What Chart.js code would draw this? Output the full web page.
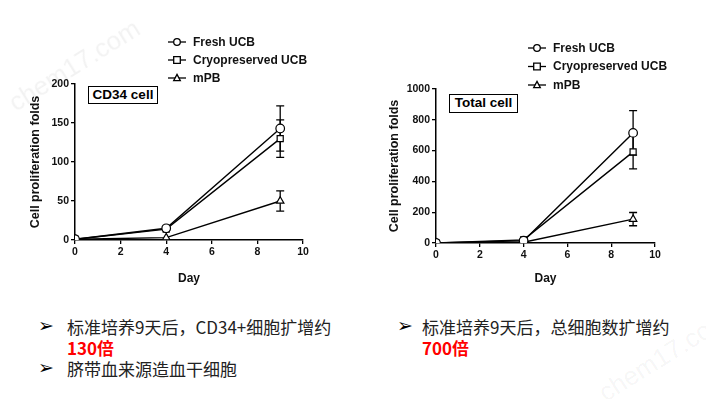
<!DOCTYPE html>
<html lang="zh">
<head>
<meta charset="UTF-8">
<title>Cell proliferation</title>
<script src="https://cdn.jsdelivr.net/npm/chart.js"></script>
<style>
  body { margin: 0; background: #fff; }
  #page { position: relative; width: 706px; height: 399px; overflow: hidden; font-family: "Liberation Sans", Arial, sans-serif; }
  canvas { position: absolute; }
  .tag { position: absolute; border: 1.3px solid #000; font-weight: bold; font-size: 13.5px; line-height: 16px; text-align: center; box-sizing: border-box; background: #fff; }
  .note { position: absolute; font-family: "Noto Sans CJK SC", sans-serif; font-size: 17px; line-height: 20px; color: #222; white-space: nowrap; }
  .note .mark { position: absolute; font-family: "DejaVu Sans", sans-serif; font-size: 19px; color: #000; }
  .red { color: #f00; font-weight: bold; font-size: 17px; }
  .wm { position: absolute; color: rgba(0,0,0,0.05); font-family: "Liberation Sans", Arial; font-size: 26px; transform: rotate(-32deg); }
</style>
</head>
<body>
<div id="page">
  <canvas id="cd34" width="300" height="260" style="left:28px;top:30px;width:300px;height:260px"></canvas>
  <canvas id="total" width="300" height="260" style="left:387px;top:30px;width:300px;height:260px"></canvas>
  <div class="tag" style="left:88px;top:86px;width:70px;height:18px">CD34 cell</div>
  <div class="tag" style="left:449px;top:94px;width:69px;height:19px">Total cell</div>

  <div class="note" style="left:38px;top:317px"><span class="mark" style="left:0;top:-2px">➢</span><span style="margin-left:29px">标准培养9天后，CD34+细胞扩增约</span></div>
  <div class="note red" style="left:67px;top:338px">130倍</div>
  <div class="note" style="left:38px;top:359px"><span class="mark" style="left:0;top:-2px">➢</span><span style="margin-left:29px">脐带血来源造血干细胞</span></div>

  <div class="note" style="left:397px;top:317px"><span class="mark" style="left:0;top:-2px">➢</span><span style="margin-left:25px">标准培养9天后，总细胞数扩增约</span></div>
  <div class="note red" style="left:422px;top:338px">700倍</div>

  <div class="wm" style="left:0px;top:50px">chem17.com</div>
  <div class="wm" style="left:590px;top:340px">chem17.com</div>
</div>

<script>
// data
const days = [0, 4, 9];
const seriesNames = ['Fresh UCB', 'Cryopreserved UCB', 'mPB'];
const markers = ['circle', 'rect', 'triangle'];

const cd34Fresh = [1, 15, 143];
const cd34Cryo = [1, 14, 130];
const cd34MPB = [1, 3, 50];
const cd34FreshErr = [0, 1, 29];
const cd34CryoErr = [0, 1, 24];
const cd34MPBErr = [0, 0, 13];
const cd34Ticks = [0, 50, 100, 150, 200];

const totalFresh = [1, 15, 715];
const totalCryo = [1, 20, 592];
const totalMPB = [1, 5, 155];
const totalFreshErr = [0, 2, 145];
const totalCryoErr = [0, 3, 111];
const totalMPBErr = [0, 1, 43];
const totalTicks = [0, 200, 400, 600, 800, 1000];

const dayTicks = [0, 2, 4, 6, 8, 10];

const FONT = "'Liberation Sans', Arial, sans-serif";

// error bars drawn under the points
const errorBars = {
  id: 'errorBars',
  beforeDatasetsDraw(chart) {
    const ctx = chart.ctx, x = chart.scales.x, y = chart.scales.y;
    ctx.save();
    ctx.strokeStyle = '#000';
    ctx.lineWidth = 1.3;
    chart.data.datasets.forEach(ds => {
      ds.data.forEach((p, i) => {
        const e = ds.err[i];
        if (!e) return;
        const px = x.getPixelForValue(p.x);
        const top = y.getPixelForValue(p.y + e), bot = y.getPixelForValue(p.y - e);
        ctx.beginPath();
        ctx.moveTo(px, top); ctx.lineTo(px, bot);
        ctx.moveTo(px - 4, top); ctx.lineTo(px + 4, top);
        ctx.moveTo(px - 4, bot); ctx.lineTo(px + 4, bot);
        ctx.stroke();
      });
    });
    ctx.restore();
  }
};

function drawMarker(ctx, style, cx, cy, r) {
  ctx.beginPath();
  if (style === 'circle') ctx.arc(cx, cy, r, 0, Math.PI * 2);
  else if (style === 'rect') ctx.rect(cx - r, cy - r, 2 * r, 2 * r);
  else { ctx.moveTo(cx, cy - r * 1.1); ctx.lineTo(cx + r, cy + r * 0.8); ctx.lineTo(cx - r, cy + r * 0.8); ctx.closePath(); }
  ctx.fillStyle = '#fff';
  ctx.fill();
  ctx.stroke();
}

// legend with line + marker, like the GraphPad style
const lineLegend = {
  id: 'lineLegend',
  afterDraw(chart, args, opts) {
    const ctx = chart.ctx;
    ctx.save();
    ctx.strokeStyle = '#000';
    ctx.lineWidth = 1.3;
    ctx.font = 'bold 12px ' + FONT;
    ctx.textBaseline = 'middle';
    chart.data.datasets.forEach((ds, i) => {
      const y = opts.y + i * opts.gap;
      ctx.beginPath();
      ctx.moveTo(opts.x - 9, y); ctx.lineTo(opts.x + 9, y);
      ctx.stroke();
      drawMarker(ctx, ds.pointStyle, opts.x, y, 3.3);
      ctx.fillStyle = '#111';
      ctx.fillText(ds.label, opts.x + 16, y + 0.5);
    });
    ctx.restore();
  }
};

function makeChart(id, values, errs, ticks, ymax, geo) {
  const datasets = values.map((vals, i) => ({
    label: seriesNames[i],
    data: vals.map((v, j) => ({ x: days[j], y: v })),
    err: errs[i],
    borderColor: '#000',
    borderWidth: 1.4,
    pointStyle: markers[i],
    pointRadius: 4.3,
    pointBorderWidth: 1.2,
    pointBackgroundColor: '#fff',
    pointBorderColor: '#000',
    tension: 0,
    fill: false
  }));
  return new Chart(document.getElementById(id), {
    type: 'line',
    data: { datasets: datasets },
    options: {
      responsive: false,
      animation: false,
      layout: { padding: { top: geo.top, right: geo.right, left: 0, bottom: 0 } },
      plugins: {
        legend: { display: false },
        tooltip: { enabled: false },
        lineLegend: geo.legend
      },
      scales: {
        x: {
          type: 'linear', min: 0, max: 10,
          afterBuildTicks: s => { s.ticks = dayTicks.map(v => ({ value: v })); },
          afterFit: s => { s.height = geo.xh; },
          border: { display: true, color: '#000', width: 1.5 },
          grid: { display: true, drawOnChartArea: false, drawTicks: true, tickLength: 4, color: '#000', lineWidth: 1.3 },
          ticks: { color: '#111', font: { family: FONT, size: 10.5, weight: 'bold' }, padding: 2, maxRotation: 0, callback: v => String(v) },
          title: { display: true, text: 'Day', color: '#111', font: { family: FONT, size: 12, weight: 'bold' }, padding: { top: 4 } }
        },
        y: {
          type: 'linear', min: 0, max: ymax,
          afterBuildTicks: s => { s.ticks = ticks.map(v => ({ value: v })); },
          afterFit: s => { s.width = geo.yw; },
          border: { display: true, color: '#000', width: 1.5 },
          grid: { display: true, drawOnChartArea: false, drawTicks: true, tickLength: 4, color: '#000', lineWidth: 1.3 },
          ticks: { color: '#111', font: { family: FONT, size: 10.5, weight: 'bold' }, padding: 2, callback: v => String(v) },
          title: { display: true, text: 'Cell proliferation folds', color: '#111', font: { family: FONT, size: 12.5, weight: 'bold' }, padding: { top: 0, bottom: 2 } }
        }
      }
    },
    plugins: [errorBars, lineLegend]
  });
}

makeChart('cd34',
  [cd34Fresh, cd34Cryo, cd34MPB],
  [cd34FreshErr, cd34CryoErr, cd34MPBErr],
  cd34Ticks, 200,
  { top: 54, right: 25, xh: 50, yw: 47, legend: { x: 149, y: 12, gap: 18 } });

makeChart('total',
  [totalFresh, totalCryo, totalMPB],
  [totalFreshErr, totalCryoErr, totalMPBErr],
  totalTicks, 1000,
  { top: 59, right: 32, xh: 47, yw: 49, legend: { x: 150, y: 18, gap: 18.5 } });
</script>
</body>
</html>
